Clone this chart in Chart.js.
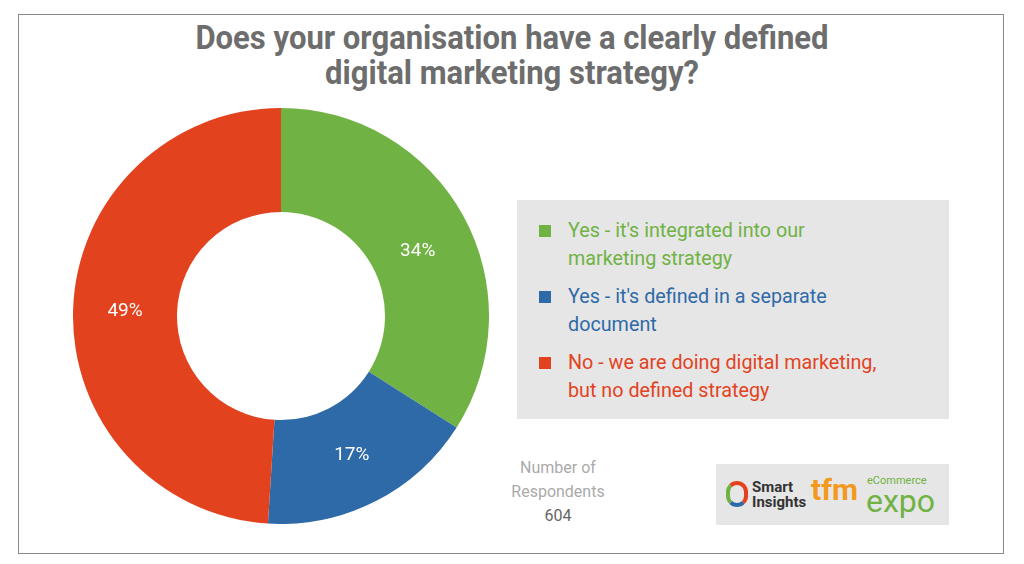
<!DOCTYPE html>
<html>
<head>
<meta charset="utf-8">
<script src="https://cdn.jsdelivr.net/npm/chart.js@4"></script>
<style>
  body { margin: 0; background: #fff; font-family: "Roboto", sans-serif; }
  #frame { position: absolute; left: 18px; top: 14px; width: 984px; height: 538px; border: 1px solid #8a8a8a; }
  #title { position: absolute; left: 0; top: 20px; width: 1024px; text-align: center; color: #6d6d6d;
           font-weight: bold; font-size: 33px; line-height: 35px; transform: scaleX(0.94); }
  #pie { position: absolute; left: 73px; top: 108px; }
  #legend { position: absolute; left: 517px; top: 200px; width: 432px; height: 219px; background: #e6e6e6; }
  .item { position: absolute; left: 22px; font-size: 21px; line-height: 28px; }
  .sw { position: absolute; left: 0; top: 9px; width: 12px; height: 12px; }
  .txt { position: absolute; left: 29px; white-space: nowrap; transform: scaleX(0.94); transform-origin: left top; }
  #resp { position: absolute; left: 505px; top: 456px; width: 106px; text-align: center; color: #aaa; font-size: 16px; line-height: 24px; }
  #logo { position: absolute; left: 716px; top: 464px; width: 233px; height: 61px; background: #e6e6e6; }
</style>
</head>
<body>
<div id="frame"></div>
<div id="title">Does your organisation have a clearly defined<br>digital marketing strategy?</div>
<canvas id="pie" width="416" height="416"></canvas>
<div id="legend"></div>
<div id="resp">Number of<br>Respondents<br><span style="color:#666">604</span></div>
<div id="logo">
  <div style="position:absolute;left:10px;top:17px;width:22px;height:26px;border-radius:11px;border:4px solid #e2431e;border-left-color:#70b244;border-bottom-color:#2f6aa8;box-sizing:border-box"></div>
  <div style="position:absolute;left:36px;top:16px;font-size:15px;line-height:15px;font-weight:bold;color:#333">Smart<br>Insights</div>
  <div style="position:absolute;left:95px;top:8px;font-size:30px;font-weight:bold;color:#f39a1e">tfm</div>
  <div style="position:absolute;left:151px;top:10px;font-size:11px;color:#70b244">eCommerce</div>
  <div style="position:absolute;left:150px;top:18px;font-size:32px;color:#70b244">expo</div>
</div>
<script>
const labels = [
  ["Yes - it's integrated into our", "marketing strategy"],
  ["Yes - it's defined in a separate", "document"],
  ["No - we are doing digital marketing,", "but no defined strategy"]
];
const values = [34, 17, 49];
const colors = ["#70b244", "#2f6aa8", "#e2431e"];

const legend = document.getElementById("legend");
labels.forEach((l, i) => {
  const d = document.createElement("div");
  d.className = "item";
  d.style.top = (16 + i * 66) + "px";
  d.style.color = colors[i];
  d.innerHTML = `<div class="sw" style="background:${colors[i]}"></div><div class="txt">${l.join("<br>")}</div>`;
  legend.appendChild(d);
});

const pctLabels = {
  id: "pctLabels",
  afterDatasetsDraw(chart) {
    const ctx = chart.ctx;
    ctx.save();
    ctx.fillStyle = "#fff";
    ctx.font = "19px Roboto, sans-serif";
    ctx.textAlign = "center";
    ctx.textBaseline = "middle";
    chart.getDatasetMeta(0).data.forEach((arc, i) => {
      const p = arc.tooltipPosition();
      ctx.fillText(values[i] + "%", p.x, p.y + 10 * (i === 0 ? 1 : 0));
    });
    ctx.restore();
  }
};

new Chart(document.getElementById("pie"), {
  type: "doughnut",
  data: {
    labels: labels.map(l => l.join(" ")),
    datasets: [{ data: values, backgroundColor: colors, borderWidth: 0 }]
  },
  options: {
    responsive: false,
    animation: false,
    cutout: "50%",
    plugins: { legend: { display: false }, tooltip: { enabled: false } }
  },
  plugins: [pctLabels]
});
</script>
</body>
</html>
